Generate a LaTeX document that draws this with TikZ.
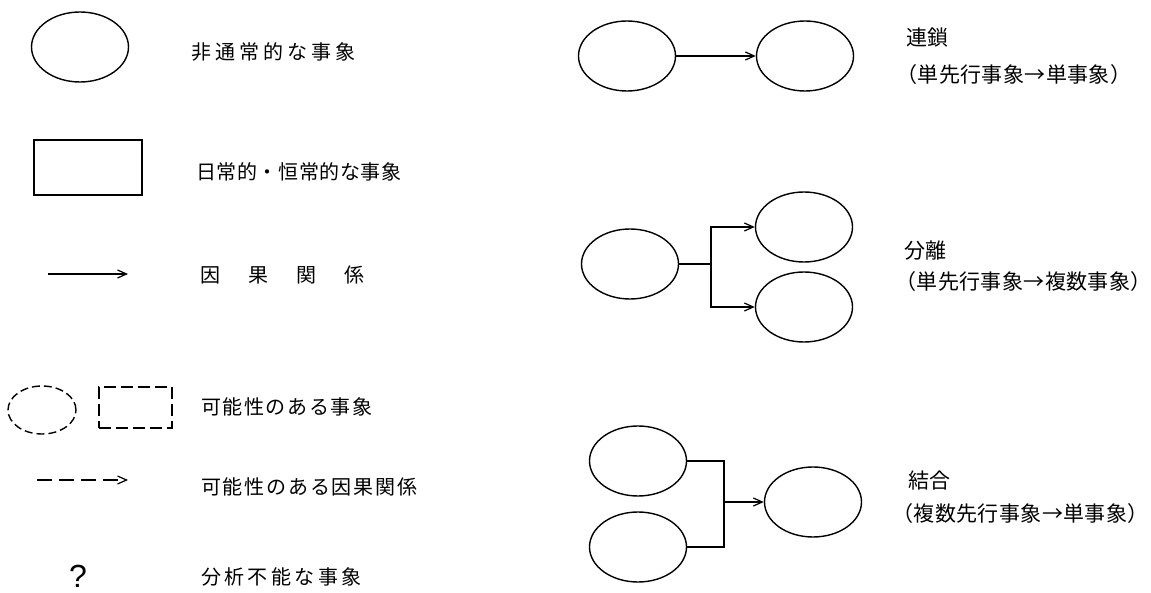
\documentclass[tikz,border=0pt]{standalone}
\usepackage{fontspec}
\setmainfont{Noto Sans CJK JP}
\newfontfamily\jp{Noto Sans CJK JP}
\newfontfamily\jpR[LetterSpace=2]{Noto Sans CJK JP}
\newfontfamily\jpA[LetterSpace=20]{Noto Sans CJK JP}
\newfontfamily\jpB[LetterSpace=3]{Noto Sans CJK JP}
\newfontfamily\jpC[LetterSpace=8]{Noto Sans CJK JP}
\newfontfamily\jpE[LetterSpace=9]{Noto Sans CJK JP}
\newfontfamily\jpD[LetterSpace=17]{Noto Sans CJK JP}
\newfontfamily\qfont{Liberation Sans}
\usetikzlibrary{shapes.geometric,arrows.meta}
\begin{document}
\begin{tikzpicture}[x=1pt,y=-1pt,
  ev/.style={draw, ellipse, line width=1.4pt, minimum width=97pt, minimum height=70pt, inner sep=0pt},
  dev/.style={draw, ellipse, line width=1.4pt, dash pattern=on 8pt off 4pt, minimum width=68pt, minimum height=48pt, inner sep=0pt},
  box/.style={draw, rectangle, line width=1.5pt, minimum width=108pt, minimum height=55pt, inner sep=0pt},
  dbox/.style={draw, rectangle, line width=1.5pt, dash pattern=on 12pt off 5pt, minimum width=73pt, minimum height=41pt, inner sep=0pt},
  ln/.style={line width=1.2pt},
  arr/.style={line width=1.2pt, -{Straight Barb[length=9pt,width=8pt]}},
  darr/.style={arr, dash pattern=on 15pt off 7pt},
  lbl/.style={anchor=west, inner sep=0pt},
  f0/.style={font={\jp\fontsize{20}{24}\selectfont}},
  fR/.style={font={\jpR\fontsize{21}{25}\selectfont}},
  fA/.style={font={\jpA\fontsize{20}{24}\selectfont}},
  fB/.style={font={\jpB\fontsize{20}{24}\selectfont}},
  fC/.style={font={\jpC\fontsize{20}{24}\selectfont}},
  fE/.style={font={\jpE\fontsize{20}{24}\selectfont}},
  fD/.style={font={\jpD\fontsize{20}{24}\selectfont}}
]
\useasboundingbox[fill=white] (0,0) rectangle (1151,593);

% ---------- legend ----------
\node[ev] (l1) at (80,47) {};
\node[lbl,fA] (t1) at (191,52) {非通常的な事象};

\node[box] (l2) at (88,167.5) {};
\node[lbl,fB] (t2) at (196,172) {日常的・恒常的な事象};

\coordinate (a1s) at (48,274);
\coordinate (a1e) at (128,274);
\draw[arr] (a1s) -- (a1e);
\node[lbl,f0] (t3) at (200,275) {因\hspace{28pt}果\hspace{28pt}関\hspace{28pt}係};

\node[dev] (l4a) at (42,410) {};
\node[dbox] (l4b) at (135.5,407.5) {};
\node[lbl,fC] (t4) at (201,407) {可能性のある事象};

\coordinate (a2s) at (37,480);
\coordinate (a2e) at (128,480);
\draw[darr] (a2s) -- (a2e);
\node[lbl,fE] (t5) at (201,487) {可能性のある因果関係};

\node[inner sep=0pt, anchor=base, font={\qfont\fontsize{32}{32}\selectfont}] (q) at (78,587) {?};
\node[lbl,fD] (t6) at (201,577) {分析不能な事象};

% ---------- chain ----------
\node[ev] (ch1) at (627,56) {};
\node[ev] (ch2) at (805,56) {};
\draw[arr] (ch1) -- (ch2);
\node[lbl,fR] (t7) at (906,38) {連鎖};
\node[lbl,fR] (t8) at (896,75) {（単先行事象→単事象）};

% ---------- branch ----------
\node[ev] (br0) at (630,264) {};
\node[ev] (br1) at (804,227) {};
\node[ev] (br2) at (804,307) {};
\coordinate (bj) at (711,264);
\draw[ln] (br0) -- (bj);
\draw[arr] (bj) |- (br1);
\draw[arr] (bj) |- (br2);
\node[lbl,fR] (t9) at (904,251) {分離};
\node[lbl,fR] (t10) at (895,282) {（単先行事象→複数事象）};

% ---------- merge ----------
\node[ev] (mg1) at (638,461) {};
\node[ev] (mg2) at (638,547) {};
\node[ev] (mg3) at (813,502) {};
\coordinate (mj) at (724,502);
\draw[ln] (mg1) -| (mj);
\draw[ln] (mg2) -| (mj);
\draw[arr] (mj) -- (mg3);
\node[lbl,fR] (t11) at (908,481) {結合};
\node[lbl,fR] (t12) at (892,514) {（複数先行事象→単事象）};
\end{tikzpicture}
\end{document}
